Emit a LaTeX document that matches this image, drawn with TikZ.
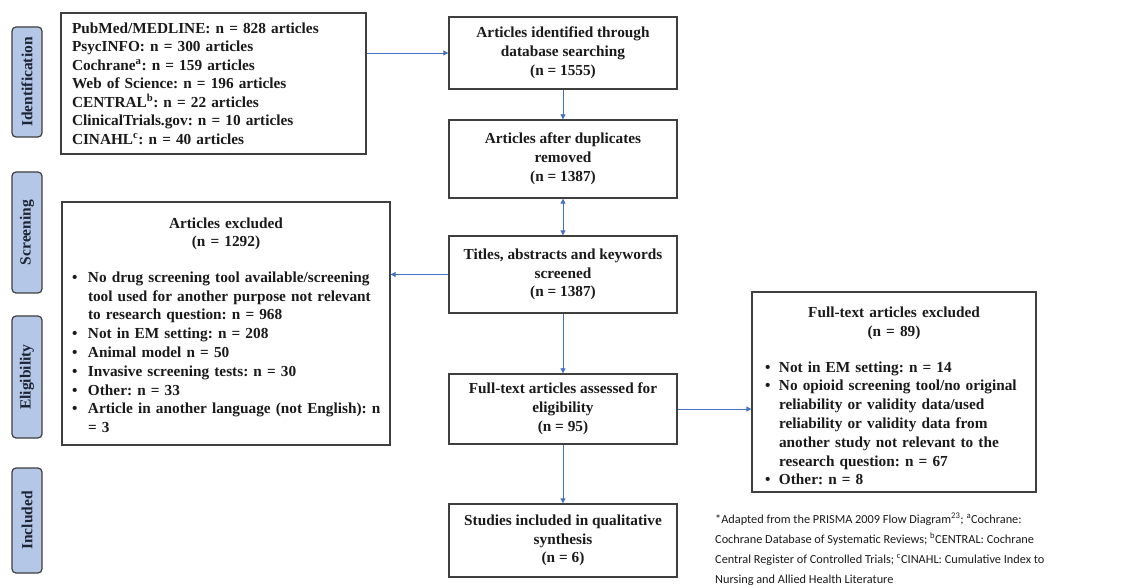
\documentclass[tikz,border=0pt]{standalone}
\usepackage{fontspec}
\setmainfont{Liberation Serif}
\newfontfamily\fnfont{Carlito}
\usetikzlibrary{arrows.meta}
\definecolor{arr}{HTML}{4472C4}
\definecolor{bord}{HTML}{3F3F3F}
\definecolor{side}{HTML}{B4C7E7}
\definecolor{sidetxt}{HTML}{1C2333}
\definecolor{txt}{HTML}{1A1A1A}
\begin{document}
\frenchspacing
\begin{tikzpicture}[x=1pt,y=-1pt,
 box/.style={draw=bord, line width=1.3pt, fill=white, text=txt, font=\bfseries\fontsize{15.3}{18.8}\selectfont, inner sep=0pt},
 cbox/.style={box, align=center, minimum width=228pt},
 sidelab/.style={draw=bord, line width=1.2pt, fill=side, rounded corners=4pt, rotate=90, minimum height=30pt, inner sep=0pt, text=sidetxt, font=\bfseries\fontsize{15.5}{17}\selectfont},
 arrow/.style={draw=arr, line width=0.8pt, -{Triangle[length=5pt,width=5pt]}},
 biarrow/.style={draw=arr, line width=0.8pt, {Triangle[length=5pt,width=5pt]}-{Triangle[length=5pt,width=5pt]}},
]
\useasboundingbox (0,0) rectangle (1136,585);

% side labels
\node[sidelab, minimum width=110pt] (sid) at (27,82) {Identification};
\node[sidelab, minimum width=121pt] (sscr) at (27,232.5) {Screening};
\node[sidelab, minimum width=122pt] (selig) at (27,377) {Eligibility};
\node[sidelab, minimum width=105pt] (sinc) at (27,520.5) {Included};

% sources
\node[box, text width=283pt, inner xsep=11pt, align=left, minimum height=141pt, font=\bfseries\fontsize{15.3}{18.5}\selectfont] (src) at (213.5,83.5)
 {PubMed/MEDLINE: n = 828 articles\\
  PsycINFO: n = 300 articles\\
  Cochrane\textsuperscript{a}: n = 159 articles\\
  Web of Science: n = 196 articles\\
  CENTRAL\textsuperscript{b}: n = 22 articles\\
  ClinicalTrials.gov: n = 10 articles\\
  CINAHL\textsuperscript{c}: n = 40 articles};

% main column
\node[cbox, minimum height=72pt] (b1) at (563,53) {Articles identified through\\ database searching\\ (n = 1555)};
\node[cbox, minimum height=78pt] (b2) at (563,159) {Articles after duplicates\\ removed\\ (n = 1387)};
\node[cbox, minimum height=77pt] (b3) at (563,274.5) {Titles, abstracts and keywords\\ screened\\ (n = 1387)};
\node[cbox, minimum height=70pt] (b4) at (563,409) {Full-text articles assessed for\\ eligibility\\ (n = 95)};
\node[cbox, minimum height=73pt] (b5) at (563,540.5) {Studies included in qualitative\\ synthesis\\ (n = 6)};

% excluded boxes
\node[box, minimum width=328pt, minimum height=243pt, text width=308pt, inner xsep=10pt, align=left] (ex1) at (226,323.5)
 {{\centering Articles excluded\\ (n = 1292)\par}\vspace{18pt}
  \noindent\begin{tabular}{@{}p{16pt}@{}l@{}}
  \textbullet & No drug screening tool available/screening\\
  & tool used for another purpose not relevant\\
  & to research question: n = 968\\
  \textbullet & Not in EM setting: n = 208\\
  \textbullet & Animal model n = 50\\
  \textbullet & Invasive screening tests: n = 30\\
  \textbullet & Other: n = 33\\
  \textbullet & Article in another language (not English): n\\
  & = 3
  \end{tabular}\par\vspace{-9pt}};

\node[box, minimum width=284pt, minimum height=200pt, text width=258pt, inner xsep=13pt, align=left] (ex2) at (894,392)
 {{\centering Full-text articles excluded\\ (n = 89)\par}\vspace{18pt}
  \noindent\begin{tabular}{@{}p{14pt}@{}l@{}}
  \textbullet & Not in EM setting: n = 14\\
  \textbullet & No opioid screening tool/no original\\
  & reliability or validity data/used\\
  & reliability or validity data from\\
  & another study not relevant to the\\
  & research question: n = 67\\
  \textbullet & Other: n = 8
  \end{tabular}\par\vspace{-14pt}};

% footnote
\node[anchor=north west, align=left, inner sep=0pt, text=txt, font=\fnfont\fontsize{12.3}{20}\selectfont] (fn) at (715,513)
 {*Adapted from the PRISMA 2009 Flow Diagram\textsuperscript{23}; \textsuperscript{a}Cochrane:\\
  Cochrane Database of Systematic Reviews; \textsuperscript{b}CENTRAL: Cochrane\\
  Central Register of Controlled Trials; \textsuperscript{c}CINAHL: Cumulative Index to\\
  Nursing and Allied Health Literature};

% connectors
\draw[arrow] (src.east |- b1.west) -- (b1.west);
\draw[arrow] (b1) -- (b2);
\draw[biarrow] (b2) -- (b3);
\draw[arrow] (b3.west) -- (b3.west -| ex1.east);
\draw[arrow] (b3) -- (b4);
\draw[arrow] (b4.east) -- (b4.east -| ex2.west);
\draw[arrow] (b4) -- (b5);
\end{tikzpicture}
\end{document}
